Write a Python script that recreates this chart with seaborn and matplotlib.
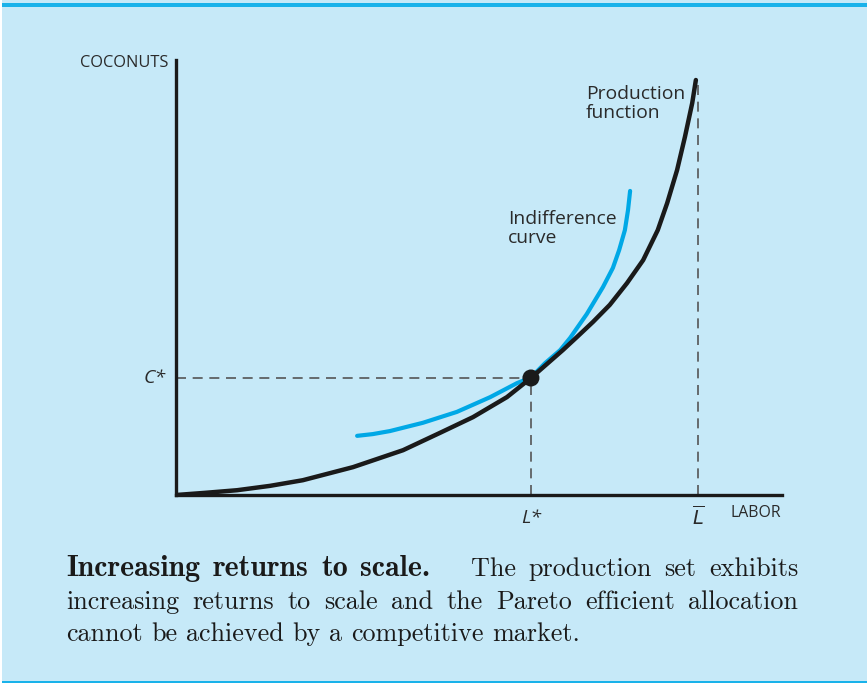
import matplotlib
matplotlib.use("Agg")
import matplotlib.pyplot as plt
import seaborn as sns
import pandas as pd

# ---- data (units: labor, coconuts) ----
prod_labor = [0.00, 0.56, 1.17, 1.80, 2.43, 3.39, 4.35, 5.06, 5.69, 6.34, 6.80, 7.41, 7.68,
              7.99, 8.31, 8.64, 8.95, 9.23, 9.41, 9.60, 9.75, 9.89, 9.96]
prod_coco  = [0.00, 0.05, 0.11, 0.21, 0.34, 0.64, 1.03, 1.43, 1.79, 2.25, 2.69, 3.33, 3.63,
              3.98, 4.37, 4.87, 5.40, 6.09, 6.71, 7.47, 8.23, 9.01, 9.54]
indiff_labor = [3.47, 3.77, 4.10, 4.73, 5.38, 6.02, 6.53, 6.80, 7.07, 7.36, 7.55, 7.87,
                8.18, 8.37, 8.49, 8.60, 8.66, 8.70]
indiff_coco  = [1.36, 1.40, 1.47, 1.66, 1.91, 2.25, 2.57, 2.70, 3.03, 3.33, 3.61, 4.16,
                4.78, 5.22, 5.63, 6.09, 6.55, 6.99]
L_star, C_star = 6.80, 2.69
L_bar, L_bar_top = 10.0, 9.54
x_max, y_max = 11.61, 10.0

caption_lines = [
    [[("Increasing", True)], [("returns", True)], [("to", True)],
     [("scale.", True)], [("The", False)], [("production", False)],
     [("set", False)], [("exhibits", False)]],
    [[(w, False)] for w in "increasing returns to scale and the Pareto efficient allocation".split()],
    [[(w, False)] for w in "cannot be achieved by a competitive market.".split()],
]

BG = "#c6e9f8"
BLUE = "#00a8e6"

sns.set_style("white", {"axes.facecolor": BG, "figure.facecolor": BG})
plt.rcParams["font.family"] = ["Open Sans", "DejaVu Sans"]

W, H = 867, 683
fig = plt.figure(figsize=(W/100, H/100), dpi=100)
ax = fig.add_axes([176/W, 1-495/H, (782-176)/W, (495-60)/H])
ax.set_facecolor(BG)

prod = pd.DataFrame({"labor": prod_labor, "coconuts": prod_coco})
ind = pd.DataFrame({"labor": indiff_labor, "coconuts": indiff_coco})

# dashed guides
dash = dict(color="#555555", lw=1.2, dashes=(6, 4))
ax.plot([0, L_star], [C_star, C_star], **dash)
ax.plot([L_star, L_star], [0, C_star], **dash)
ax.plot([L_bar, L_bar], [0, L_bar_top], **dash)

sns.lineplot(data=ind, x="labor", y="coconuts", sort=False, ax=ax,
             color=BLUE, lw=3.0, estimator=None, solid_joinstyle="round")
sns.lineplot(data=prod, x="labor", y="coconuts", sort=False, ax=ax,
             color="#1a1a1a", lw=3.2, estimator=None, solid_joinstyle="round")
sns.scatterplot(x=[L_star], y=[C_star], ax=ax, color="#1a1a1a", s=150,
                edgecolor="none", zorder=5)

ax.set_xlim(0, x_max)
ax.set_ylim(0, y_max)
ax.set_xticks([])
ax.set_yticks([])
ax.set_xlabel("")
ax.set_ylabel("")
for s in ["top", "right"]:
    ax.spines[s].set_visible(False)
for s in ["left", "bottom"]:
    ax.spines[s].set_color("#1a1a1a")
    ax.spines[s].set_linewidth(2.4)

tc = "#2a2a2a"
ax.text(-0.14, 9.92, "COCONUTS", ha="right", va="center", fontsize=11.8, color=tc)
ax.text(x_max - 0.02, -0.42, "LABOR", ha="right", va="center", fontsize=11.4, color=tc)
ax.text(-0.2, C_star, "C*", ha="right", va="center", fontsize=14, color=tc, style="italic")
ax.text(L_star, -0.52, "L*", ha="center", va="center", fontsize=14, color=tc, style="italic")
ax.text(L_bar, -0.5, r"$\overline{\mathit{L}}$", ha="center", va="center", fontsize=14, color=tc,
        math_fontfamily="dejavusans")
ax.text((586-176)/52.2, (495-103.5)/43.5, "Production\nfunction", ha="left", va="center",
        fontsize=13.9, color=tc, linespacing=1.05)
ax.text((508-176)/52.2, (495-228.5)/43.5, "Indifference\ncurve", ha="left", va="center",
        fontsize=13.9, color=tc, linespacing=1.05)

# border bars
fig.add_artist(plt.Rectangle((0, 1-7/H), 1, 4/H, transform=fig.transFigure,
                             color="#19b2ea", lw=0))
fig.add_artist(plt.Rectangle((0, 0), 1, 2/H, transform=fig.transFigure,
                             color="#19b2ea", lw=0))
fig.add_artist(plt.Rectangle((0, 0), 1.5/W, 1, transform=fig.transFigure,
                             color="white", lw=0))

# caption (justified)
cap_col = "#1a1a1a"
left_px = 66
line_right = [798, 798, 580]
baselines = [576, 609, 641]
fig.canvas.draw()
r = fig.canvas.get_renderer()

def seg_width(text, bold, size):
    t = fig.text(0, 0, text, fontsize=size, family="cmb10" if bold else "cmr10")
    w = t.get_window_extent(r).width
    t.remove()
    return w

fs = 18.8
fs_b = fs * 1.14

def size_of(bold):
    return fs_b if bold else fs

for line, base, rpx in zip(caption_lines, baselines, line_right):
    widths = [sum(seg_width(t, b, size_of(b)) for t, b in tok) for tok in line]
    weights = [3.2 if tok[-1][0].endswith(".") else 1.0 for tok in line[:-1]]
    unit = (rpx - left_px - sum(widths)) / sum(weights)
    x = left_px
    for j, tok in enumerate(line):
        for text, bold in tok:
            t = fig.text(x / W, 1 - base / H, text, fontsize=size_of(bold),
                         family="cmb10" if bold else "cmr10", color=cap_col, va="baseline")
            x += t.get_window_extent(r).width
        if j < len(weights):
            x += unit * weights[j]

fig.savefig("out.png", dpi=100, facecolor=BG)
